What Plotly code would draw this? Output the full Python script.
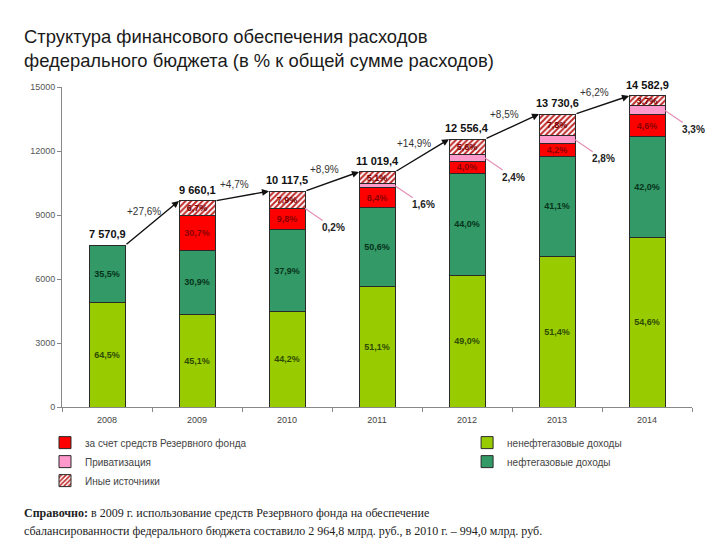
import plotly.graph_objects as go

# ---------------- data ----------------
years = ["2008", "2009", "2010", "2011", "2012", "2013", "2014"]
totals = [7570.9, 9660.1, 10117.5, 11019.4, 12556.4, 13730.6, 14582.9]
total_labels = ["7 570,9", "9 660,1", "10 117,5", "11 019,4", "12 556,4", "13 730,6", "14 582,9"]

nonoil = [4883, 4357, 4472, 5631, 6152, 7058, 7962]
oil = [2688, 2973, 3834, 3724, 4809, 4683, 4718]
reserve = [0, 1644, 991, 926, 560, 600, 1010]
privat = [0, 0, 20, 176, 301, 384, 420]
other = [0, 686, 800, 562, 734, 1006, 473]

nonoil_lbl = ["64,5%", "45,1%", "44,2%", "51,1%", "49,0%", "51,4%", "54,6%"]
oil_lbl = ["35,5%", "30,9%", "37,9%", "50,6%", "44,0%", "41,1%", "42,0%"]
reserve_lbl = ["", "30,7%", "9,8%", "8,4%", "4,0%", "4,2%", "4,6%"]
other_lbl = ["", "6,7%", "7,9%", "5,1%", "5,6%", "7,8%", "3,7%"]
privat_lbl = ["", "", "0,2%", "1,6%", "2,4%", "2,8%", "3,3%"]
growth_lbl = ["+27,6%", "+4,7%", "+8,9%", "+14,9%", "+8,5%", "+6,2%"]

names = ["за счет средств Резервного фонда", "Приватизация", "Иные источники",
         "ненефтегазовые доходы", "нефтегазовые доходы"]

# ---------------- styling ----------------
SANS = "Liberation Sans Narrow, Arial Narrow, Liberation Sans, Arial, sans-serif"
SERIF = "Liberation Serif, Times New Roman, serif"
C_LGREEN = "#99CC00"
C_DGREEN = "#339966"
C_RED = "#FF0000"
C_PINK = "#FF99CC"
OUTLINE = dict(color="#2a2a2a", width=1)
BW = 0.4

fig = go.Figure()

def seg(y, color, text, tcolor, name, legend, pattern=None):
    kw = {}
    if pattern:
        kw["marker_pattern"] = pattern
    fig.add_trace(go.Bar(
        x=years, y=y, name=name, width=BW,
        marker=dict(color=color, line=OUTLINE), **kw,
        text=text, texttemplate="<b>%{text}</b>",
        textposition="inside", insidetextanchor="middle",
        textangle=0, constraintext="none",
        textfont=dict(family=SANS, size=9, color=tcolor),
        legend=legend, hoverinfo="skip",
    ))

seg(nonoil, C_LGREEN, nonoil_lbl, "#2d4a00", names[3], "legend2")
seg(oil, C_DGREEN, oil_lbl, "#06331a", names[4], "legend2")
seg(reserve, C_RED, reserve_lbl, "#8a0000", names[0], "legend")
seg(privat, C_PINK, [""] * 7, "#000", names[1], "legend")
seg(other, "#FFE0E0", other_lbl, "#7a0000", names[2], "legend",
    pattern=dict(shape="/", fgcolor="#C02828", size=4, solidity=0.5, fillmode="replace"))

ann = []
# total labels
for i, t in enumerate(totals):
    ann.append(dict(x=i, y=t, text="<b>%s</b>" % total_labels[i], showarrow=False,
                    yanchor="bottom", yshift=3, font=dict(family=SANS, size=11, color="#111")))
# growth arrows
for i in range(len(totals) - 1):
    ann.append(dict(x=i + 1 - BW / 2, y=totals[i + 1], ax=i + BW / 2, ay=totals[i],
                    xref="x", yref="y", axref="x", ayref="y", text="",
                    showarrow=True, arrowhead=2, arrowsize=1, arrowwidth=1.4,
                    arrowcolor="#111", standoff=0, startstandoff=0))
    ann.append(dict(x=i + 0.5, y=(totals[i] + totals[i + 1]) / 2, text=growth_lbl[i],
                    showarrow=False, xshift=-8, yshift=12,
                    font=dict(family=SANS, size=10, color="#333")))
# privatisation callouts
for i in range(len(totals)):
    if privat_lbl[i]:
        base = nonoil[i] + oil[i] + reserve[i]
        ann.append(dict(x=i + BW / 2, y=base + privat[i] / 2, text="<b>%s</b>" % privat_lbl[i],
                        showarrow=True, arrowhead=0, arrowwidth=1.2, arrowcolor="#E58FB5",
                        ax=28, ay=19, standoff=0,
                        font=dict(family=SANS, size=10, color="#222")))

# title
ann.append(dict(xref="paper", yref="paper", x=-0.0635, y=1.197, xanchor="left", yanchor="top",
                align="left", showarrow=False,
                text="Структура финансового обеспечения расходов<br>федерального бюджета (в % к общей сумме расходов)",
                font=dict(family="Liberation Sans, Arial, sans-serif", size=18.4, color="#1a1a1a")))
# footnote (two lines)
ann.append(dict(xref="paper", yref="paper", x=-0.0635, y=-0.331, xanchor="left", yanchor="middle",
                align="left", showarrow=False,
                text="<b>Справочно:</b> в 2009 г. использование средств Резервного фонда на обеспечение",
                font=dict(family=SERIF, size=12, color="#222")))
ann.append(dict(xref="paper", yref="paper", x=-0.0635, y=-0.3875, xanchor="left", yanchor="middle",
                align="left", showarrow=False,
                text="сбалансированности федерального бюджета составило 2 964,8 млрд. руб., в 2010 г. – 994,0 млрд. руб.",
                font=dict(family=SERIF, size=12, color="#222")))

fig.update_layout(
    barmode="stack",
    width=712, height=532,
    margin=dict(l=54, r=28, t=79, b=133),
    paper_bgcolor="white", plot_bgcolor="white",
    annotations=ann,
    showlegend=True,
    legend=dict(x=-0.027, y=-0.066, xanchor="left", yanchor="top", traceorder="normal",
                font=dict(family=SANS, size=10, color="#444"), tracegroupgap=2,
                bgcolor="rgba(0,0,0,0)"),
    legend2=dict(x=0.643, y=-0.066, xanchor="left", yanchor="top", traceorder="normal",
                 font=dict(family=SANS, size=10, color="#444"), tracegroupgap=2,
                 bgcolor="rgba(0,0,0,0)"),
    xaxis=dict(type="category", showline=True, linecolor="#888", linewidth=1,
               ticks="outside", tickson="boundaries", ticklen=4, tickcolor="#888",
               ticklabelstandoff=4,
               tickfont=dict(family=SANS, size=9, color="#444"), showgrid=False,
               range=[-0.5, 6.5]),
    yaxis=dict(range=[0, 15000], tickvals=[0, 3000, 6000, 9000, 12000, 15000],
               tickformat="d",
               showline=True, linecolor="#888", linewidth=1, ticks="outside", ticklen=4,
               tickcolor="#888", tickfont=dict(family=SANS, size=9, color="#555"),
               showgrid=False, zeroline=False),
)

fig.write_html("out.html")
